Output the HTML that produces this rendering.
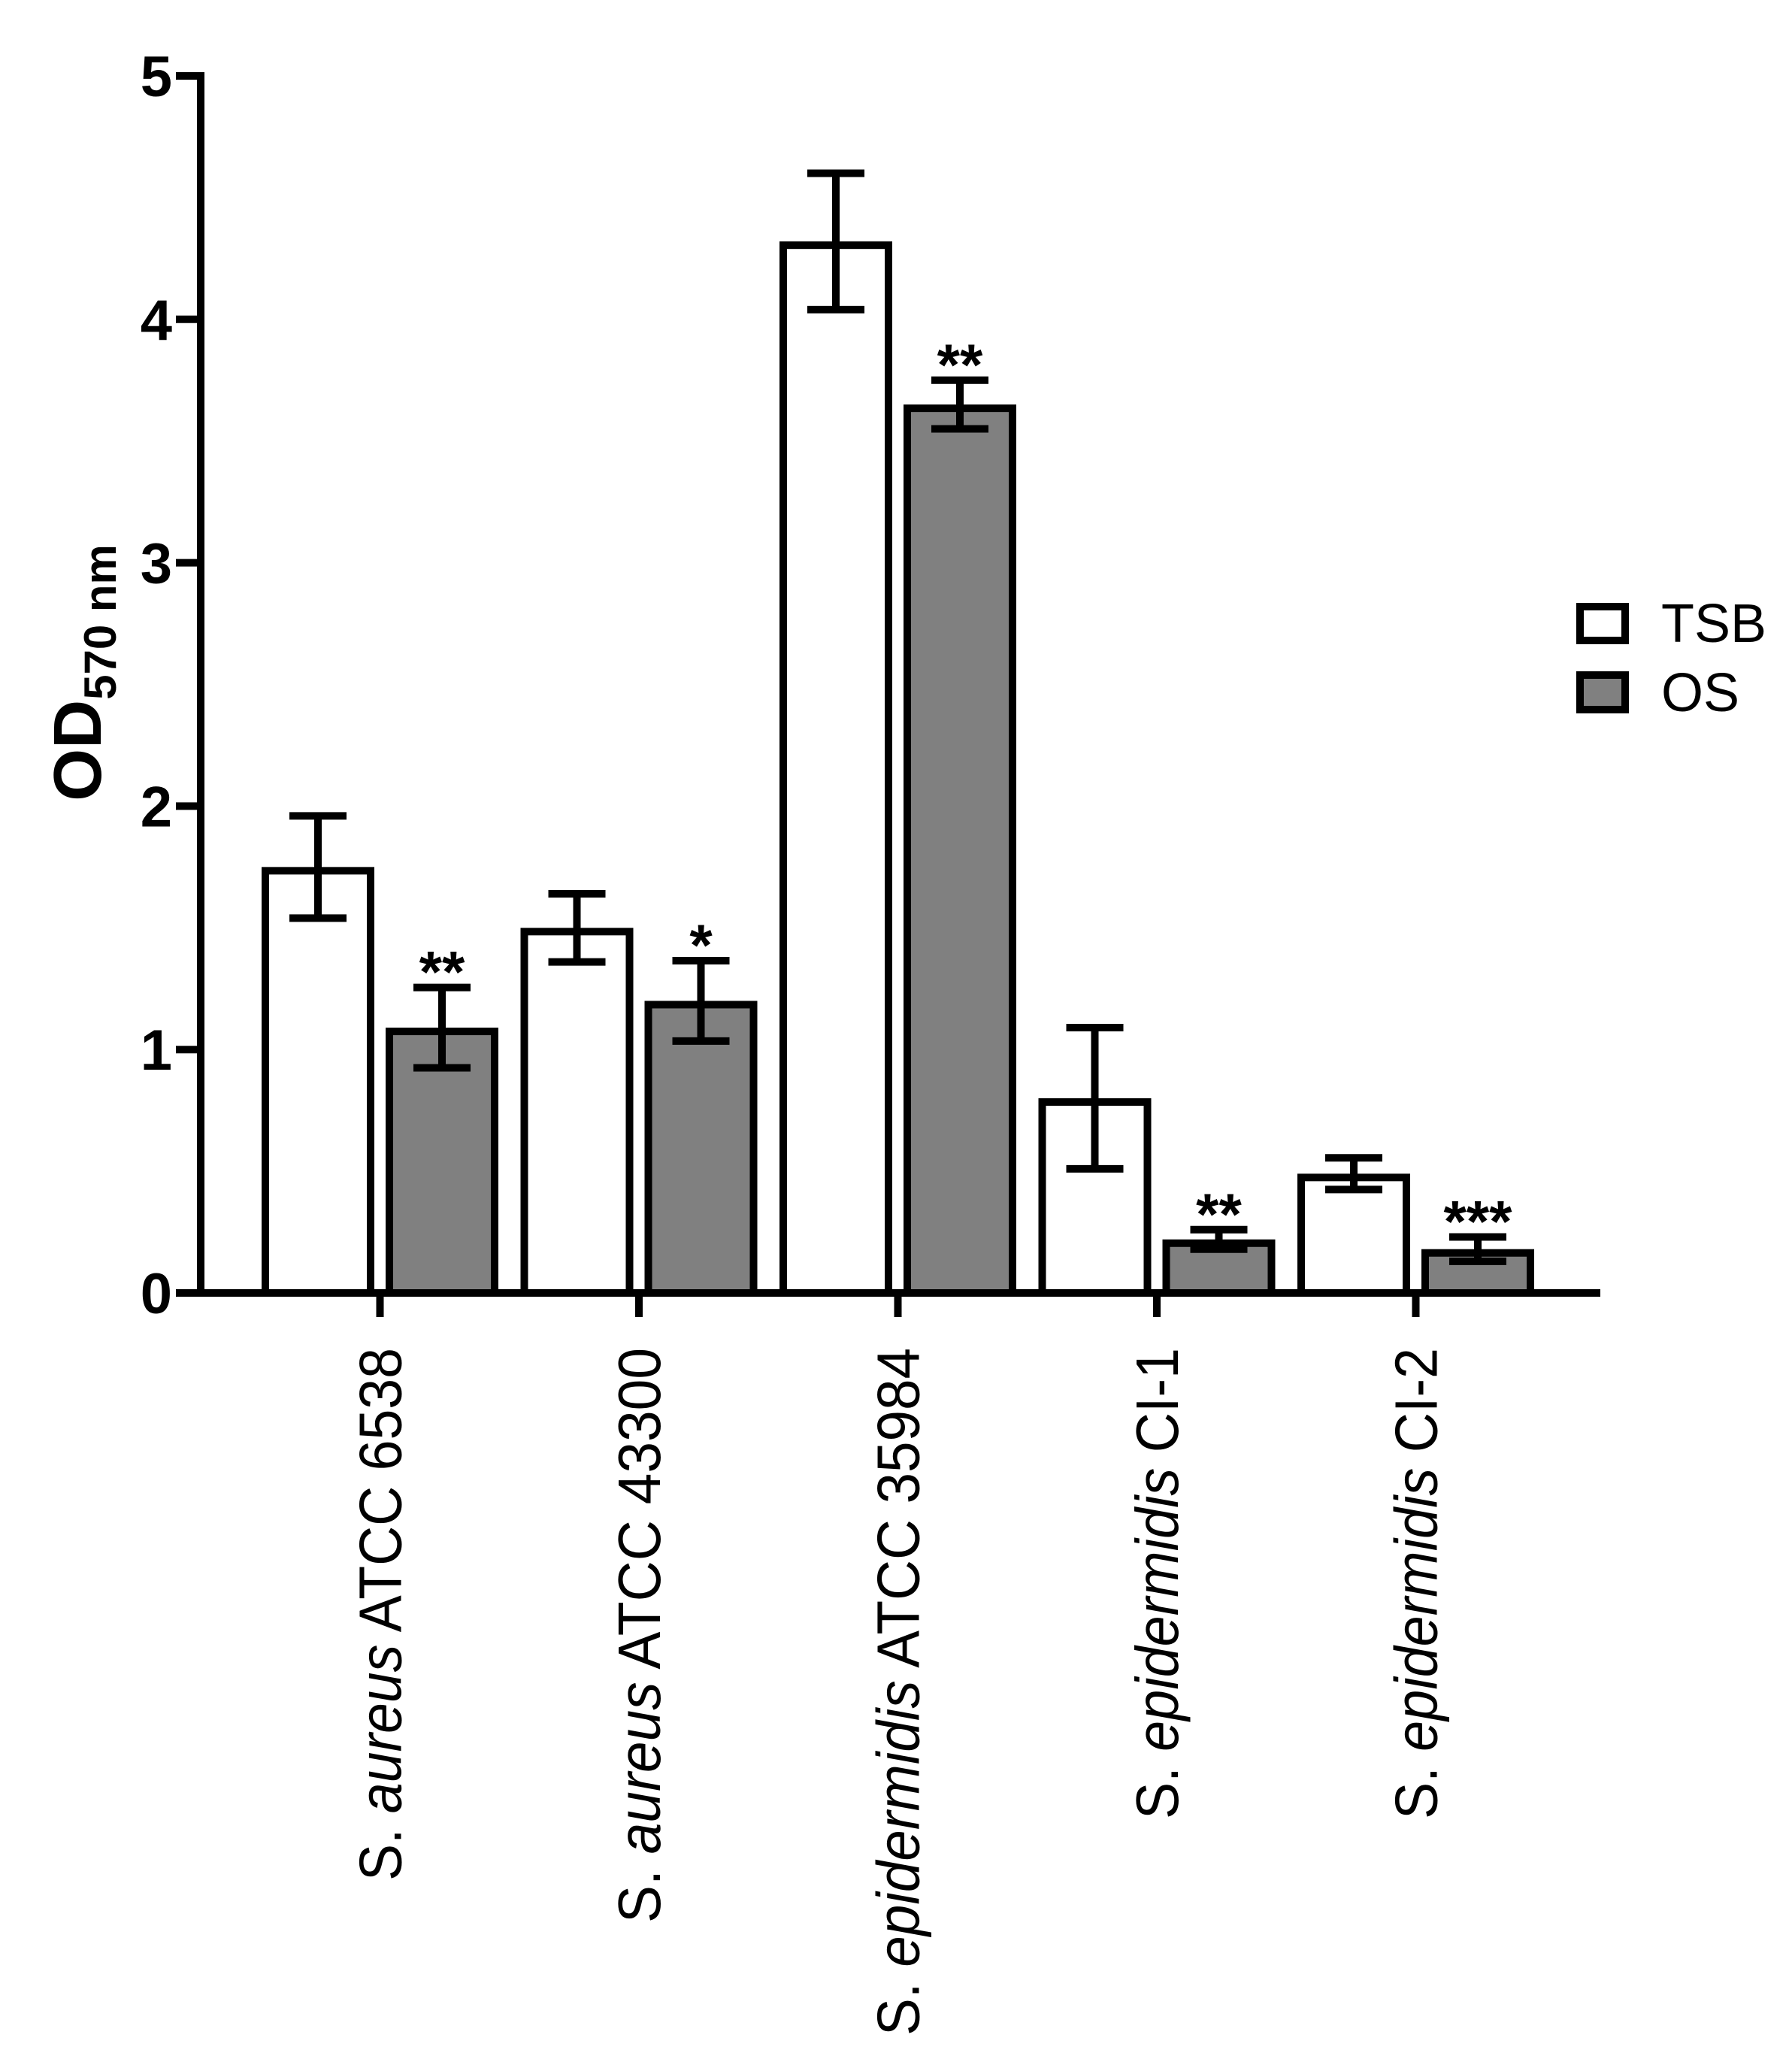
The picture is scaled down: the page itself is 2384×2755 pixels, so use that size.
<!DOCTYPE html>
<html><head><meta charset="utf-8"><style>
html,body{margin:0;padding:0;background:#fff;}
svg{display:block;font-family:"Liberation Sans",Arial,sans-serif;}
</style></head><body>
<svg id="chart" width="2384" height="2755" viewBox="0 0 2384 2755" xmlns="http://www.w3.org/2000/svg">
<g id="plot"></g>
<g>
  <rect x="2102" y="807" width="60" height="45" fill="#fff" stroke="#000" stroke-width="10"/>
  <text x="2210" y="854" font-size="72">TSB</text>
  <rect x="2102" y="898" width="60" height="46" fill="#808080" stroke="#000" stroke-width="10"/>
  <text x="2210" y="946" font-size="72">OS</text>
</g>
<text transform="translate(134,895) rotate(-90)" text-anchor="middle" font-weight="bold" font-size="90">OD<tspan font-size="60" dy="20">570 nm</tspan></text>
</svg>
<script>
const categories = ["S. aureus|ATCC 6538", "S. aureus|ATCC 43300", "S. epidermidis|ATCC 35984", "S. epidermidis|CI-1", "S. epidermidis|CI-2"];
const tsbValues = [1.75, 1.50, 4.32, 0.80, 0.49];
const tsbErrors = [0.21, 0.14, 0.28, 0.29, 0.065];
const osValues = [1.09, 1.20, 3.65, 0.22, 0.18];
const osErrors = [0.165, 0.165, 0.10, 0.04, 0.05];
const osSignificance = ["**", "*", "**", "**", "***"];
const yTicks = [0, 1, 2, 3, 4, 5];
const labelLengths = [709, 765, 915, 627, 627];

const NS = "http://www.w3.org/2000/svg";
const g = document.getElementById("plot");
const y0 = 1720, y5 = 101;
function yScale(v){ return y0 - (y0 - y5) * v / 5; }
const groupStart = 348, groupStep = 344.5, barW = 150, innerGap = 15;
function xTsb(i){ return groupStart + i * groupStep; }
function xOs(i){ return xTsb(i) + barW + innerGap; }
function xTick(i){ return xTsb(i) + barW + innerGap / 2; }

function mk(tag, attrs){ const e = document.createElementNS(NS, tag); for (const k in attrs) e.setAttribute(k, attrs[k]); g.appendChild(e); return e; }

function bar(x, v, err, fill, name){
  const r = mk("rect", {x: x + 5, y: yScale(v) + 5, width: barW - 10, height: y0 - yScale(v) - 5, fill: fill, stroke: "#000", "stroke-width": 10});
  
  
  const cx = x + barW / 2, top = yScale(v + err), bot = yScale(v - err);
  const p = mk("path", {d: `M${cx},${top}V${bot}M${cx-38},${top}H${cx+38}M${cx-38},${bot}H${cx+38}`, stroke: "#000", "stroke-width": 10, fill: "none"});
  
  
  return top;
}

for (let i = 0; i < categories.length; i++){
  bar(xTsb(i), tsbValues[i], tsbErrors[i], "#fff", "bar-tsb-" + (i+1));
  const top = bar(xOs(i), osValues[i], osErrors[i], "#808080", "bar-os-" + (i+1));
  const s = mk("text", {x: xOs(i) + barW / 2, y: top + 6, "text-anchor": "middle", "font-size": 78, "font-weight": "bold"});
  s.textContent = osSignificance[i];
  
  
  const tk = mk("line", {x1: xTick(i), x2: xTick(i), y1: y0, y2: y0 + 32, stroke: "#000", "stroke-width": 10});
  
  
  const parts = categories[i].split("|");
  const t = mk("text", {transform: `translate(${xTick(i) + 28},1793) rotate(-90)`, "text-anchor": "end", "font-size": 80, textLength: labelLengths[i], lengthAdjust: "spacingAndGlyphs"});
  const a = document.createElementNS(NS, "tspan"); const sp = parts[0].split(" ");
  a.textContent = sp[0] + " "; t.appendChild(a);
  const b = document.createElementNS(NS, "tspan"); b.setAttribute("font-style", "italic"); b.textContent = sp[1]; t.appendChild(b);
  const c = document.createElementNS(NS, "tspan"); c.textContent = " " + parts[1]; t.appendChild(c);
  
  
}

for (const v of yTicks){
  const tl = mk("line", {x1: 234, x2: 267, y1: yScale(v), y2: yScale(v), stroke: "#000", "stroke-width": 10});
  
  
  const tx = mk("text", {x: 229, y: yScale(v) + 27, "text-anchor": "end", "font-size": 76, "font-weight": "bold"});
  tx.textContent = v;
  
  
}
const ya = mk("line", {x1: 267, x2: 267, y1: y5 - 5, y2: y0 + 5, stroke: "#000", "stroke-width": 10});


const xa = mk("line", {x1: 234, x2: 2129, y1: y0, y2: y0, stroke: "#000", "stroke-width": 10});


</script>
</body></html>
